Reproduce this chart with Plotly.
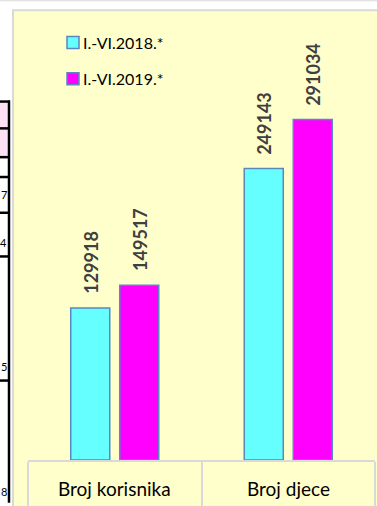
import plotly.graph_objects as go

categories = ["Broj korisnika", "Broj djece"]
series_names = ["I.-VI.2018.*", "I.-VI.2019.*"]
values_2018 = [129918, 249143]
values_2019 = [149517, 291034]
colors = ["#66ffff", "#ff00ff"]

W, H = 377, 506
L, R, T, B = 28, 2, 40, 43
FONT = "Lato"


# pixel -> paper coords (paper is the plot area, not the whole figure)
def px_x(p):
    return (p - L) / (W - L - R)


def px_y(p):
    return (H - B - p) / (H - T - B)


fig = go.Figure()
for name, vals, col in zip(series_names, [values_2018, values_2019], colors):
    fig.add_trace(go.Bar(
        x=categories, y=vals, name=name,
        marker=dict(color=col, line=dict(color="#5a87c0", width=1.5)),
        showlegend=False, hoverinfo="skip",
    ))

# value labels above bars, rotated
annotations = []
for i, vals in enumerate([values_2018, values_2019]):
    for cat, v in zip(categories, vals):
        annotations.append(dict(
            x=cat, y=v, xref="x", yref="y", text=f"<b>{v}</b>",
            textangle=-90, showarrow=False, xanchor="center", yanchor="bottom",
            xshift=-24.5 if i == 0 else 24.5, yshift=12,
            font=dict(family=FONT, size=18, color="#404040"),
        ))

# category labels
for cat in categories:
    annotations.append(dict(
        x=cat, y=px_y(492), xref="x", yref="paper", text=cat, showarrow=False,
        xanchor="center", yanchor="middle", font=dict(family=FONT, size=19, color="#000000"),
    ))

shapes = []
# outer chart frame / background
shapes.append(dict(type="rect", xref="paper", yref="paper", x0=px_x(13), x1=px_x(W + 5),
                   y0=px_y(H + 5), y1=px_y(10), fillcolor="#ffffcc",
                   line=dict(color="#d9d9d9", width=2), layer="below"))
shapes.append(dict(type="line", xref="paper", yref="paper", x0=px_x(0), x1=px_x(W),
                   y0=px_y(0.5), y1=px_y(0.5), line=dict(color="#d9d9d9", width=1)))

# manual legend
for j, (name, col) in enumerate(zip(series_names, colors)):
    cy = 42.5 + 36.5 * j
    shapes.append(dict(type="rect", xref="paper", yref="paper", x0=px_x(67), x1=px_x(79),
                       y0=px_y(cy + 6), y1=px_y(cy - 6), fillcolor=col,
                       line=dict(color="#5a87c0", width=1.5)))
    annotations.append(dict(x=px_x(81), y=px_y(cy), xref="paper", yref="paper", text=name,
                            showarrow=False, xanchor="left", yanchor="middle",
                            font=dict(family=FONT, size=16, color="#000000")))

# remnants of the neighbouring table on the left
shapes.append(dict(type="rect", xref="paper", yref="paper", x0=px_x(0), x1=px_x(8),
                   y0=px_y(158), y1=px_y(102), fillcolor="#fde0f4", line=dict(width=0)))
shapes.append(dict(type="line", xref="paper", yref="paper", x0=px_x(9), x1=px_x(9),
                   y0=px_y(H), y1=px_y(101), line=dict(color="#000000", width=2.5)))
for ly in [102, 129, 158, 178, 214, 258, 383]:
    shapes.append(dict(type="line", xref="paper", yref="paper", x0=px_x(0), x1=px_x(10),
                       y0=px_y(ly), y1=px_y(ly), line=dict(color="#000000", width=2.5)))
for txt, ty in [("7", 196), ("4", 244), ("5", 369), ("8", 495)]:
    annotations.append(dict(x=px_x(8.5), y=px_y(ty), xref="paper", yref="paper", text=txt,
                            showarrow=False, xanchor="right", yanchor="middle",
                            font=dict(family=FONT, size=11, color="#000000")))

fig.update_layout(
    width=W, height=H,
    margin=dict(l=L, r=R, t=T, b=B),
    paper_bgcolor="#ffffff", plot_bgcolor="rgba(0,0,0,0)",
    barmode="group", bargap=0.435, bargroupgap=0.204,
    shapes=shapes, annotations=annotations,
    font=dict(family=FONT),
)
fig.update_xaxes(showline=True, linecolor="#d9d9d9", linewidth=2,
                 ticks="outside", tickson="boundaries", ticklen=44,
                 tickcolor="#d9d9d9", tickwidth=2, showticklabels=False,
                 showgrid=False, zeroline=False)
fig.update_yaxes(range=[0, 359100], visible=False, showgrid=False)

# drop the browser's default 8px body margin so the figure fills the window
fig.write_html("out.html", config={"displayModeBar": False},
               post_script="document.body.style.margin='0';")
